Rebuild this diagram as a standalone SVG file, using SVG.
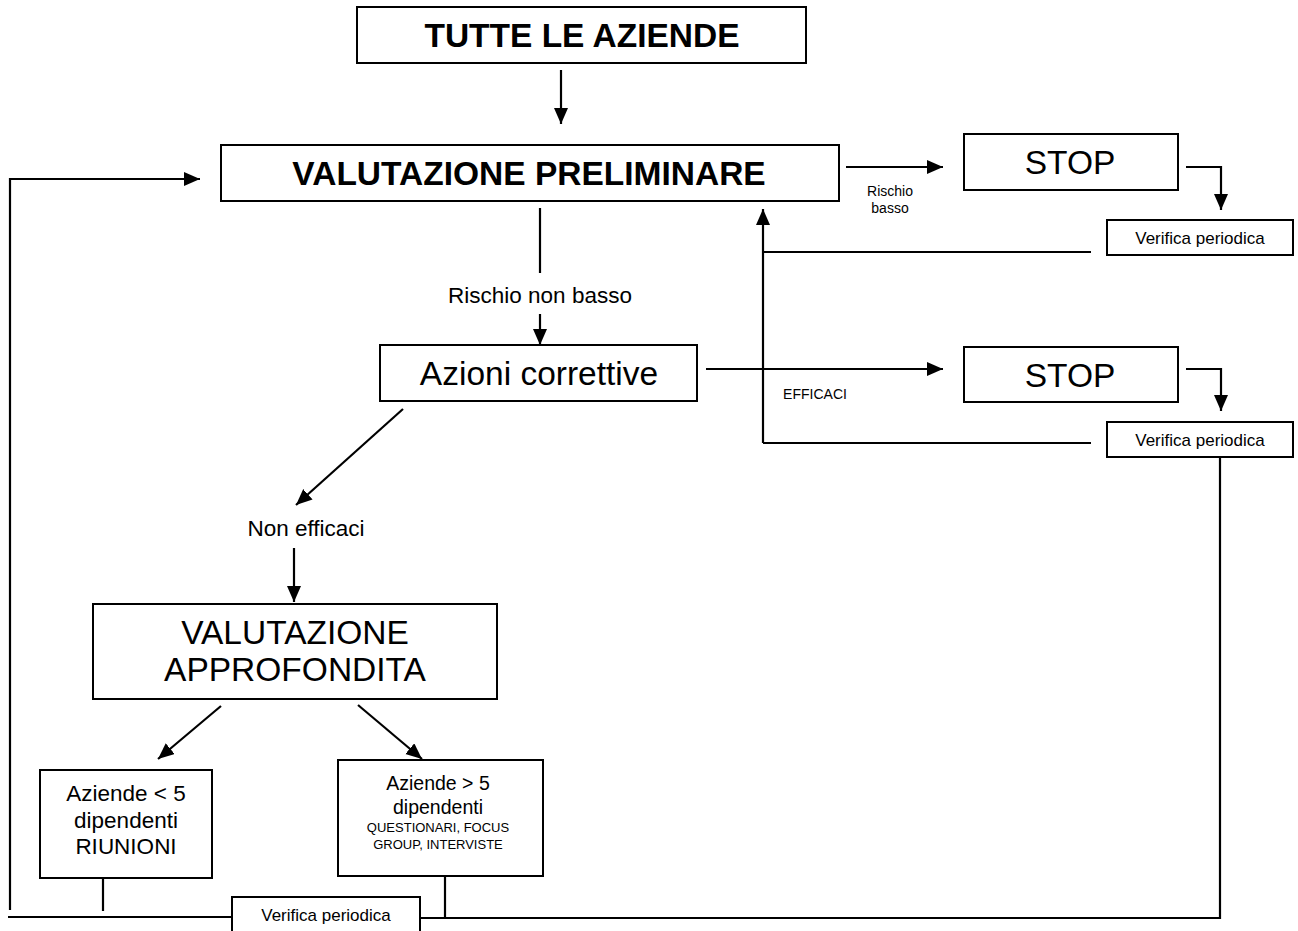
<svg xmlns="http://www.w3.org/2000/svg" width="1298" height="931" viewBox="0 0 1298 931">
<style>
.box{fill:#fff;stroke:#000;stroke-width:2}
.ln{fill:none;stroke:#000;stroke-width:2.2}
.arr{marker-end:url(#ah)}
text{font-family:"Liberation Sans",Arial,sans-serif;fill:#000;text-anchor:middle}
.b{font-weight:bold;font-size:33.5px}
.big{font-size:33.5px}
.med{font-size:22.5px}
.sm{font-size:14px}
.ver{font-size:17px}
</style>
<defs>
<marker id="ah" markerUnits="userSpaceOnUse" markerWidth="18" markerHeight="16" refX="16" refY="7" orient="auto">
<path d="M0,0 L16,7 L0,14 z" fill="#000"/>
</marker>
</defs>
<rect width="1298" height="931" fill="#fff"/>
<g id="connectors">
<line class="ln arr" x1="561" y1="70" x2="561" y2="124"/>
<polyline class="ln arr" points="10,910 10,179 200,179"/>
<line class="ln arr" x1="846" y1="167" x2="943" y2="167"/>
<polyline class="ln arr" points="1186,167 1221,167 1221,210"/>
<polyline class="ln" points="1091,252 763,252"/>
<line class="ln arr" x1="763" y1="443" x2="763" y2="209"/>
<polyline class="ln" points="1091,443 763,443"/>
<line class="ln" x1="540" y1="208" x2="540" y2="273"/>
<line class="ln arr" x1="540" y1="314" x2="540" y2="345"/>
<line class="ln arr" x1="706" y1="369" x2="943" y2="369"/>
<polyline class="ln arr" points="1186,369 1221,369 1221,411"/>
<line class="ln arr" x1="403" y1="409" x2="296" y2="505"/>
<line class="ln arr" x1="294" y1="548" x2="294" y2="602"/>
<line class="ln arr" x1="221" y1="706" x2="158" y2="759"/>
<line class="ln arr" x1="358" y1="705" x2="422" y2="759"/>
<line class="ln" x1="103" y1="877" x2="103" y2="911"/>
<line class="ln" x1="445" y1="876" x2="445" y2="918"/>
<line class="ln" x1="8" y1="917" x2="232" y2="917"/>
<polyline class="ln" points="420,918 1220,918 1220,457"/>
</g>
<g id="n-tutte">
<rect class="box" x="357" y="7" width="449" height="56"/>
<text class="b" x="582" y="47">TUTTE LE AZIENDE</text>
</g>
<g id="n-prelim">
<rect class="box" x="221" y="145" width="618" height="56"/>
<text class="b" x="529" y="185">VALUTAZIONE PRELIMINARE</text>
</g>
<g id="l-rischio-basso">
<text class="sm" x="890" y="196">Rischio</text>
<text class="sm" x="890" y="213">basso</text>
</g>
<g id="n-stop1">
<rect class="box" x="964" y="134" width="214" height="56"/>
<text class="big" x="1070" y="174">STOP</text>
</g>
<g id="n-ver1">
<rect class="box" x="1107" y="220" width="186" height="35"/>
<text class="ver" x="1200" y="244">Verifica periodica</text>
</g>
<g id="l-rnb">
<text class="med" x="540" y="303">Rischio non basso</text>
</g>
<g id="n-azioni">
<rect class="box" x="380" y="345" width="317" height="56"/>
<text class="big" x="539" y="385">Azioni correttive</text>
</g>
<g id="l-efficaci">
<text class="sm" x="815" y="399">EFFICACI</text>
</g>
<g id="n-stop2">
<rect class="box" x="964" y="347" width="214" height="55"/>
<text class="big" x="1070" y="387">STOP</text>
</g>
<g id="n-ver2">
<rect class="box" x="1107" y="422" width="186" height="35"/>
<text class="ver" x="1200" y="446">Verifica periodica</text>
</g>
<g id="l-nonefficaci">
<text class="med" x="306" y="536">Non efficaci</text>
</g>
<g id="n-approf">
<rect class="box" x="93" y="604" width="404" height="95"/>
<text class="big" x="295" y="644">VALUTAZIONE</text>
<text class="big" x="295" y="681">APPROFONDITA</text>
</g>
<g id="n-az5">
<rect class="box" x="40" y="770" width="172" height="108"/>
<text class="med" x="126" y="801">Aziende &lt; 5</text>
<text class="med" x="126" y="828">dipendenti</text>
<text class="med" x="126" y="854">RIUNIONI</text>
</g>
<g id="n-az5plus">
<rect class="box" x="338" y="760" width="205" height="116"/>
<text x="438" y="790" style="font-size:19.5px">Aziende &gt; 5</text>
<text x="438" y="814" style="font-size:19.5px">dipendenti</text>
<text x="438" y="832" style="font-size:13px">QUESTIONARI, FOCUS</text>
<text x="438" y="849" style="font-size:13px">GROUP, INTERVISTE</text>
</g>
<g id="n-ver3">
<rect class="box" x="232" y="897" width="188" height="40"/>
<text class="ver" x="326" y="921">Verifica periodica</text>
</g>
</svg>
